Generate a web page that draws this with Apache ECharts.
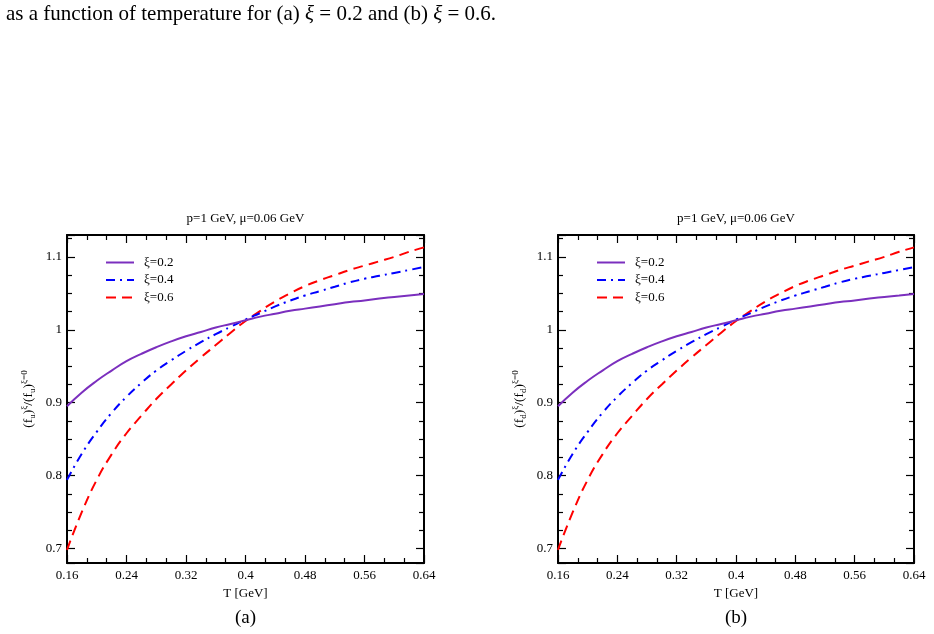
<!DOCTYPE html>
<html>
<head>
<meta charset="utf-8">
<script src="https://cdn.jsdelivr.net/npm/echarts@6/dist/echarts.min.js"></script>
<style>
html,body{margin:0;padding:0;background:#fff}
#chart{width:934px;height:634px}
</style>
</head>
<body>
<div id="chart"></div>
<script>
// temperature grid [GeV] and ratio curves
const temps = [0.16,0.18,0.20,0.22,0.24,0.26,0.28,0.30,0.32,0.34,0.36,0.38,0.40,
               0.42,0.44,0.46,0.48,0.50,0.52,0.54,0.56,0.58,0.60,0.62,0.64];
const xi02 = [0.895,0.914,0.930,0.944,0.957,0.967,0.976,0.984,0.991,0.997,1.003,1.008,1.013,
              1.018,1.022,1.026,1.029,1.032,1.035,1.038,1.040,1.043,1.045,1.047,1.049];
const xi04 = [0.794,0.830,0.860,0.886,0.908,0.927,0.944,0.958,0.971,0.983,0.994,1.004,1.014,
              1.023,1.032,1.040,1.047,1.053,1.059,1.065,1.070,1.074,1.078,1.082,1.086];
const xi06 = [0.698,0.750,0.794,0.829,0.858,0.882,0.905,0.925,0.944,0.962,0.979,0.996,1.012,
              1.026,1.039,1.050,1.060,1.068,1.075,1.082,1.088,1.094,1.100,1.107,1.113];
const seriesNames = ['ξ=0.2','ξ=0.4','ξ=0.6'];
const flavours = ['u','d'];
const panelTags = ['(a)','(b)'];
const panelTitle = 'p=1 GeV, μ=0.06 GeV';

const serif = 'Liberation Serif';
const chart = echarts.init(document.getElementById('chart'));

function pairs(ys){
  return temps.map((t,i)=>[t, ys[i]]);
}

const grids = [
  {left:67, top:235, width:357, height:328},
  {left:558, top:235, width:356, height:328}
];

const lineStyles = [
  {color:'#7b2fbe', width:2, type:'solid'},
  {color:'#0000ff', width:2, type:[9,5,2,5]},
  {color:'#ff0000', width:2, type:[10,6]}
];

function xAxisFor(g, top){
  return {
    type:'value', gridIndex:g, position: top ? 'top' : 'bottom',
    min:0.16, max:0.64, interval:0.08,
    axisLine:{show:true, onZero:false, lineStyle:{color:'#000', width:2}},
    axisTick:{show:true, inside:true, length:8, lineStyle:{color:'#000', width:1.2}},
    minorTick:{show:true, splitNumber:3, length:5, lineStyle:{color:'#000', width:1.2}},
    axisLabel:{show:!top, margin:6, color:'#000', fontFamily:serif, fontSize:13},
    splitLine:{show:false},
    name: top ? panelTitle : 'T [GeV]',
    nameLocation:'middle',
    nameGap: top ? 10 : 18,
    nameTextStyle:{color:'#000', fontFamily:serif, fontSize:13}
  };
}

function yAxisFor(g, right, flav){
  return {
    type:'value', gridIndex:g, position: right ? 'right' : 'left',
    min:0.68, max:1.13, splitNumber:5, minInterval:0.1, maxInterval:0.1,
    axisLine:{show:true, onZero:false, lineStyle:{color:'#000', width:2}},
    axisTick:{show:true, inside:true, length:8, lineStyle:{color:'#000', width:1.2}},
    minorTick:{show:true, splitNumber:4, length:5, lineStyle:{color:'#000', width:1.2}},
    axisLabel:{show:!right, showMinLabel:false, showMaxLabel:false, margin:5,
               color:'#000', fontFamily:serif, fontSize:13},
    splitLine:{show:false},
    name: right ? '' : '{n|(f}{s|' + flav + '}{n|)}{p|ξ}{n|/(f}{s|' + flav + '}{n|)}{p|ξ=0}',
    nameLocation:'middle', nameRotate:90, nameGap:30,
    nameTextStyle:{
      color:'#000', fontFamily:serif, fontSize:13,
      rich:{
        n:{fontFamily:serif, fontSize:13.5, lineHeight:17, color:'#000'},
        s:{fontFamily:serif, fontSize:9, lineHeight:9, verticalAlign:'bottom', color:'#000'},
        p:{fontFamily:serif, fontSize:9, lineHeight:9, verticalAlign:'top', color:'#000'}
      }
    }
  };
}

const xAxes = [], yAxes = [], series = [], legends = [], graphics = [];
const curves = [xi02, xi04, xi06];

grids.forEach((g, k)=>{
  xAxes.push(xAxisFor(k, false), xAxisFor(k, true));
  yAxes.push(yAxisFor(k, false, flavours[k]), yAxisFor(k, true, flavours[k]));
  curves.forEach((ys, i)=>{
    series.push({
      name: seriesNames[i], type:'line',
      xAxisIndex: k*2, yAxisIndex: k*2,
      data: pairs(ys), symbol:'none', smooth:true,
      lineStyle: lineStyles[i], itemStyle:{color: lineStyles[i].color},
      z: 3 - i
    });
  });
  legends.push({
    data: seriesNames, orient:'vertical',
    left: g.left + 33, top: 251,
    itemWidth:28, itemHeight:14, itemGap:4.5,
    itemStyle:{opacity:0},
    textStyle:{color:'#000', fontFamily:serif, fontSize:13, padding:[0,0,0,5]},
    selectedMode:false
  });
  graphics.push({
    type:'text', x: g.left + g.width/2, y: 618,
    style:{text: panelTags[k], fontFamily:serif, fontSize:19, fill:'#000',
           align:'center', verticalAlign:'middle'}
  });
});

graphics.push({
  type:'text', x:6, y:14,
  style:{
    text:'as a function of temperature for (a) {i|ξ} = 0.2 and (b) {i|ξ} = 0.6.',
    fontFamily:serif, fontSize:21, fill:'#000', verticalAlign:'middle',
    rich:{i:{fontFamily:serif, fontSize:21, fontStyle:'italic', fill:'#000'}}
  }
});

const option = {
  backgroundColor:'#fff',
  animation:false,
  grid: grids,
  xAxis: xAxes,
  yAxis: yAxes,
  legend: legends,
  series: series,
  graphic: graphics
};
chart.setOption(option);
window.addEventListener('resize',()=>{
  chart.resize();
});
</script>
</body>
</html>
